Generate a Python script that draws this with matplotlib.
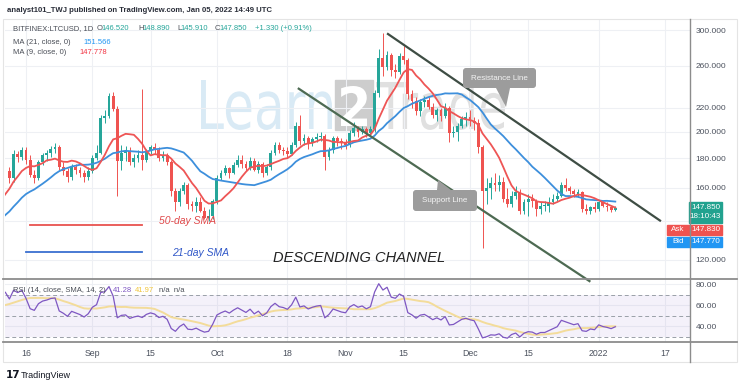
import numpy as np
import pandas as pd
import matplotlib
matplotlib.use("Agg")
import matplotlib.pyplot as plt
from matplotlib.transforms import Affine2D
from matplotlib.patches import Rectangle, Polygon, FancyBboxPatch, PathPatch
from matplotlib.lines import Line2D
from matplotlib.textpath import TextPath
from matplotlib.font_manager import FontProperties
from matplotlib.ticker import NullLocator

# ---- data (LTCUSD daily) ----
# warm-up closes before the visible window (Jul 13 - Aug 11), only feed the MAs / RSI
warm_close = [133, 131, 126, 123, 124, 122, 116, 108, 121, 122, 124, 127, 127, 132, 135,
              138, 139, 143, 142, 142, 139, 135, 142, 150, 153, 160, 156, 168, 168, 171]

aug_close = [166, 183, 181, 186, 179, 168, 166, 177, 182, 184, 187, 188, 174, 171, 167, 174, 172, 170, 167, 171]
aug_high = [174, 186, 185, 188, 188, 182, 172, 179, 184, 186, 189, 191, 190, 177, 173, 176, 176, 174, 172, 174]
aug_low = [163, 164, 177, 179, 176, 167, 163, 165, 175, 178, 181, 184, 172, 168, 164, 165, 169, 167, 164, 165]

sep_close = [180, 184, 211, 213, 231, 219, 178, 184, 185, 177, 180, 182, 179, 185, 188,
             186, 180, 182, 177, 158, 151, 158, 162, 150, 149, 151, 146, 142, 143, 152]
sep_high = [182, 190, 214, 218, 233, 234, 222, 190, 189, 188, 183, 186, 237, 187, 190,
            191, 188, 185, 184, 179, 160, 160, 164, 163, 152, 154, 154, 148, 147, 153]
sep_low = [170, 179, 183, 207, 211, 217, 155, 172, 178, 175, 174, 177, 172, 177, 183,
           183, 178, 178, 175, 155, 146, 149, 156, 147, 146, 145, 145, 141, 140, 141]

oct_close = [166, 170, 173, 170, 175, 179, 176, 173, 178, 172, 176, 170, 174, 184, 190, 186,
             185, 183, 190, 205, 193, 195, 191, 194, 196, 197, 181, 186, 195, 193, 191]
oct_high = [168, 172, 175, 174, 177, 182, 182, 178, 181, 180, 178, 177, 176, 186, 192, 192,
            188, 188, 192, 208, 214, 198, 197, 196, 199, 200, 198, 188, 197, 197, 195]
oct_low = [150, 165, 168, 166, 169, 174, 173, 171, 172, 171, 170, 167, 168, 172, 182, 184,
           182, 180, 182, 188, 190, 190, 187, 189, 192, 193, 172, 179, 184, 189, 187]

nov_close = [190, 199, 203, 200, 202, 199, 202, 233, 268, 259, 272, 256, 254, 270, 266,
             232, 226, 217, 225, 227, 221, 214, 218, 213, 220, 199, 200, 205, 210, 212]
nov_high = [194, 201, 208, 205, 205, 204, 205, 236, 278, 296, 276, 274, 262, 274, 281,
            268, 236, 230, 228, 231, 230, 224, 220, 220, 224, 222, 205, 207, 213, 216]
nov_low = [187, 188, 197, 196, 198, 196, 197, 200, 230, 250, 256, 250, 248, 252, 262,
           228, 220, 214, 213, 221, 219, 211, 209, 209, 211, 192, 196, 193, 203, 205]

dec_close = [209, 207, 188, 158, 160, 163, 162, 164, 153, 150, 155, 157, 146, 151, 153, 152,
             147, 149, 149, 151, 153, 155, 162, 160, 158, 156, 157, 147, 146, 148, 147]
dec_high = [218, 212, 210, 190, 166, 167, 170, 168, 167, 160, 158, 161, 159, 153, 156, 156,
            153, 151, 152, 154, 156, 157, 164, 166, 161, 159, 159, 158, 150, 149, 151]
dec_low = [205, 201, 184, 126, 150, 153, 158, 158, 151, 148, 148, 153, 144, 144, 143, 148,
           143, 144, 146, 145, 150, 152, 154, 158, 156, 154, 154, 145, 144, 144, 145]

jan_close = [151, 149, 148, 146.52, 147.85]
jan_high = [152, 152, 151, 149, 148.89]
jan_low = [146, 148, 146, 145, 145.91]

tick_dates = ['2021-08-16', '2021-09-01', '2021-09-15', '2021-10-01', '2021-10-18', '2021-11-01',
              '2021-11-15', '2021-12-01', '2021-12-15', '2022-01-01', '2022-01-17']
tick_labels = ['16', 'Sep', '15', 'Oct', '18', 'Nov', '15', 'Dec', '15', '2022', '17']
price_ticks = [120, 140, 160, 180, 200, 220, 260, 300]
price_labels = ['120.000', '', '160.000', '180.000', '200.000', '220.000', '260.000', '300.000']
rsi_ticks = [40, 60, 80]

# user drawings (date, price)
res_dates = ['2021-11-11', '2022-01-16']
res_prices = [296, 140]
sup_dates = ['2021-10-20 12:00', '2021-12-30']
sup_prices = [238, 110]

# ---- build series ----
close_vis = np.array(aug_close + sep_close + oct_close + nov_close + dec_close + jan_close, float)
high_vis = np.array(aug_high + sep_high + oct_high + nov_high + dec_high + jan_high, float)
low_vis = np.array(aug_low + sep_low + oct_low + nov_low + dec_low + jan_low, float)
close_all = np.array(warm_close + list(close_vis), float)
dates_all = pd.date_range('2021-07-13', periods=len(close_all), freq='D')
base = pd.Timestamp('2021-08-16')

s = pd.Series(close_all, index=dates_all)
ma9 = s.rolling(9).mean()
ma21 = s.rolling(21).mean()
delta = s.diff()
up = delta.clip(lower=0).ewm(alpha=1 / 14, adjust=False).mean()
dn = (-delta.clip(upper=0)).ewm(alpha=1 / 14, adjust=False).mean()
rsi = 100 - 100 / (1 + up / dn)
rsi_sma = rsi.rolling(14).mean()

x_all = np.asarray((dates_all - base).days, float)
nvis = len(close_vis)
x_vis = x_all[-nvis:]
open_vis = close_all[-nvis - 1:-1]

def dx(ts):
    return (pd.Timestamp(ts) - base) / pd.Timedelta(days=1)

UP = '#26a69a'
DOWN = '#ef5350'
W, H = 740, 387
fig = plt.figure(figsize=(W / 100, H / 100), dpi=100)
PX = Affine2D().scale(1, -1).translate(0, H)  # pixel coords from the top-left
FONT = 'Liberation Sans'

def txt(x, y, s, **kw):
    kw.setdefault('fontsize', 5.5)
    kw.setdefault('family', FONT)
    kw.setdefault('va', 'center')
    fig.text(x, y, s, transform=PX, **kw)

def fitted_word(a, word, x0, x1, ytop, ybase, color, z, bold=False):
    # watermark word stretched into a pixel box
    tp = TextPath((0, 0), word, size=1,
                  prop=FontProperties(family='DejaVu Sans', weight='bold' if bold else 'normal'))
    ext = tp.get_extents()
    sx = (x1 - x0) / ext.width
    sy = (ybase - ytop) / ext.y1
    tr = Affine2D().translate(-ext.x0, 0).scale(sx, -sy).translate(x0, ybase) + PX
    a.add_patch(PathPatch(tp, transform=tr, fc=color, ec='none', zorder=z))

ax = fig.add_axes([5 / W, 1 - 279 / H, 685 / W, 259 / H])
axr = fig.add_axes([5 / W, 1 - 342 / H, 685 / W, 63 / H])
xlim = ((5 - 26) / 4.15, (690 - 26) / 4.15)

# ---- main pane ----
ax.set_yscale('log')
ax.set_ylim(111.2, 312.2)
ax.set_xlim(*xlim)
for a in (ax, axr):
    for sp in a.spines.values():
        sp.set_visible(False)
    a.set_xticks([dx(d) for d in tick_dates])
    a.grid(True, color='#eef0f4', lw=0.8)
    a.set_axisbelow(True)
ax.patch.set_alpha(0)
axr.patch.set_alpha(0)
ax.yaxis.tick_right()
ax.set_yticks(price_ticks)
ax.set_yticklabels(price_labels)
ax.yaxis.set_minor_locator(NullLocator())
ax.tick_params(axis='y', length=0, pad=4, labelsize=6, labelcolor='#4c525e')
ax.tick_params(axis='x', length=0, labelbottom=False)
for t in ax.get_yticklabels():
    t.set_family(FONT)

# watermark
fitted_word(ax, 'Learn', 201, 332, 80, 129, '#d9eaf5', 0.5)
ax.add_patch(Rectangle((335, 80), 38, 50, transform=PX, color='#cdcdcd', zorder=0.5))
fitted_word(ax, '2', 341, 367, 86, 126, 'white', 0.6, bold=True)
fitted_word(ax, 'Trade', 376, 505, 80, 129, '#e0e0e0', 0.5)

cols = np.where(close_vis >= open_vis, UP, DOWN)
ax.vlines(x_vis, low_vis, high_vis, colors=cols, lw=0.7, zorder=2)
body = np.maximum(np.abs(close_vis - open_vis), 0.5)
ax.bar(x_vis, body, bottom=np.minimum(open_vis, close_vis), width=0.68, color=cols,
       linewidth=0, zorder=2)
ax.plot(x_all, ma21, color='#3d8fdc', lw=1.3, zorder=3)
ax.plot(x_all, ma9, color='#ee5555', lw=1.3, zorder=3)

# channel
ax.plot([dx(d) for d in res_dates], res_prices, color='#3e4d44', lw=1.6, zorder=4,
        solid_capstyle='butt')
ax.plot([dx(d) for d in sup_dates], sup_prices, color='#4d6a52', lw=1.6, zorder=4,
        clip_on=False, solid_capstyle='butt')

# hand-drawn legend
ax.plot([dx('2021-08-17'), dx('2021-09-13')], [138, 138], color='#e8534f', lw=1.3, zorder=4)
ax.plot([dx('2021-08-16'), dx('2021-09-13')], [123.8, 123.8], color='#3a6fd0', lw=1.3, zorder=4)
txt(159, 221, '50-day SMA', fontsize=7.5, style='italic', color='#e0494a')
txt(172, 253, '21-day SMA', fontsize=7.5, style='italic', color='#3158c8')
txt(273, 258, 'DESCENDING CHANNEL', fontsize=10.5, style='italic', color='#222222')

# callouts
for (x0, y0, w, h, label, tail) in [
        (463, 68, 73, 20, 'Resistance Line', [(496, 88), (510, 88), (506, 107)]),
        (413, 190, 64, 21, 'Support Line', [(437, 190), (451, 190), (438, 180)])]:
    fig.patches.append(FancyBboxPatch((x0 + 3, y0 + 3), w - 6, h - 6, transform=PX,
                                      boxstyle='round,pad=3', fc='#9c9c9c', ec='none', zorder=5))
    fig.patches.append(Polygon(tail, closed=True, transform=PX, fc='#9c9c9c', ec='none', zorder=5))
    txt(x0 + w / 2, y0 + h / 2, label, ha='center', color='#f4f4f4', fontsize=5.8, zorder=6)

# ---- RSI pane ----
axr.set_xlim(*xlim)
axr.set_ylim(25.2, 85.2)
axr.axhspan(30, 70, color='#7e57c2', alpha=0.08, lw=0)
for lv in (70, 50, 30):
    axr.axhline(lv, color='#9aa0a8', lw=0.7, ls=(0, (4, 3)))
axr.plot(x_all, rsi_sma, color='#f3dc9a', lw=1.4)
axr.plot(x_all, rsi, color='#7e57c2', lw=0.9)
axr.yaxis.tick_right()
axr.set_yticks(rsi_ticks)
axr.set_yticklabels([f'{v:.2f}' for v in rsi_ticks])
axr.set_xticklabels(tick_labels)
axr.tick_params(axis='y', length=0, pad=4, labelsize=6, labelcolor='#4c525e')
axr.tick_params(axis='x', length=0, pad=5, labelsize=6.3, labelcolor='#4c525e')
for t in axr.get_yticklabels() + axr.get_xticklabels():
    t.set_family(FONT)

# ---- frame / separators ----
fig.patches.append(Rectangle((3, 19), 734, 343, transform=PX, fill=False, ec='#e4e4e4', lw=0.8))
for yy in (279, 342):
    fig.lines.append(Line2D([3, 737], [yy, yy], transform=PX, color='#8c8c8c', lw=1.3))
fig.lines.append(Line2D([690, 690], [19, 362], transform=PX, color='#8c8c8c', lw=1.0))

# last-price labels
ylast = H - ax.transData.transform((0, close_vis[-1]))[1]
fig.patches.append(Rectangle((689, ylast - 6), 33, 21, transform=PX, color='#22a28f'))
txt(705.5, ylast, '147.850', ha='center', color='white', fontsize=5.8)
txt(705.5, ylast + 9, '18:10:43', ha='center', color='white', fontsize=5.8)
fig.patches.append(Rectangle((667, ylast + 17), 22, 10, transform=PX, color='#ef5350'))
fig.patches.append(Rectangle((689, ylast + 17), 33, 10, transform=PX, color='#ef5350'))
txt(678, ylast + 22, 'Ask', ha='center', color='white', fontsize=5.8)
txt(705.5, ylast + 22, '147.830', ha='center', color='white', fontsize=5.8)
fig.patches.append(Rectangle((667, ylast + 29), 22, 10, transform=PX, color='#2196f3'))
fig.patches.append(Rectangle((689, ylast + 29), 33, 10, transform=PX, color='#2196f3'))
txt(678, ylast + 34, 'Bid', ha='center', color='white', fontsize=5.8)
txt(705.5, ylast + 34, '147.770', ha='center', color='white', fontsize=5.8)

# ---- header / legends ----
txt(7, 10, 'analyst101_TWJ published on TradingView.com, Jan 05, 2022 14:49 UTC',
    fontsize=5.6, weight='bold', color='#2a2e39')
G = '#4a4e57'
for x0, s0, c0 in [(13, 'BITFINEX:LTCUSD, 1D', G), (97, 'O', G), (101.5, '146.520', UP),
                   (138, 'H', G), (142.5, '148.890', UP), (177, 'L', G), (180.5, '145.910', UP),
                   (215, 'C', G), (219.5, '147.850', UP), (255, '+1.330 (+0.91%)', UP)]:
    txt(x0, 29, s0, color=c0)
txt(13, 42, 'MA (21, close, 0)', color=G)
txt(83, 42, '151.566', color='#2196f3')
txt(13, 53, 'MA (9, close, 0)', color=G)
txt(79, 53, '147.778', color='#f23645')
txt(13, 290, 'RSI (14, close, SMA, 14, 2)', color=G)
txt(113, 290, '41.28', color='#7e57c2')
txt(135, 290, '41.97', color='#f0c53c')
txt(159, 290, 'n/a  n/a', color=G)

txt(6, 375, '17', fontsize=7.5, weight='bold', color='#131722', family='DejaVu Sans')
txt(21, 375, 'TradingView', fontsize=6.5, color='#131722')

fig.savefig('out.png', dpi=100)
